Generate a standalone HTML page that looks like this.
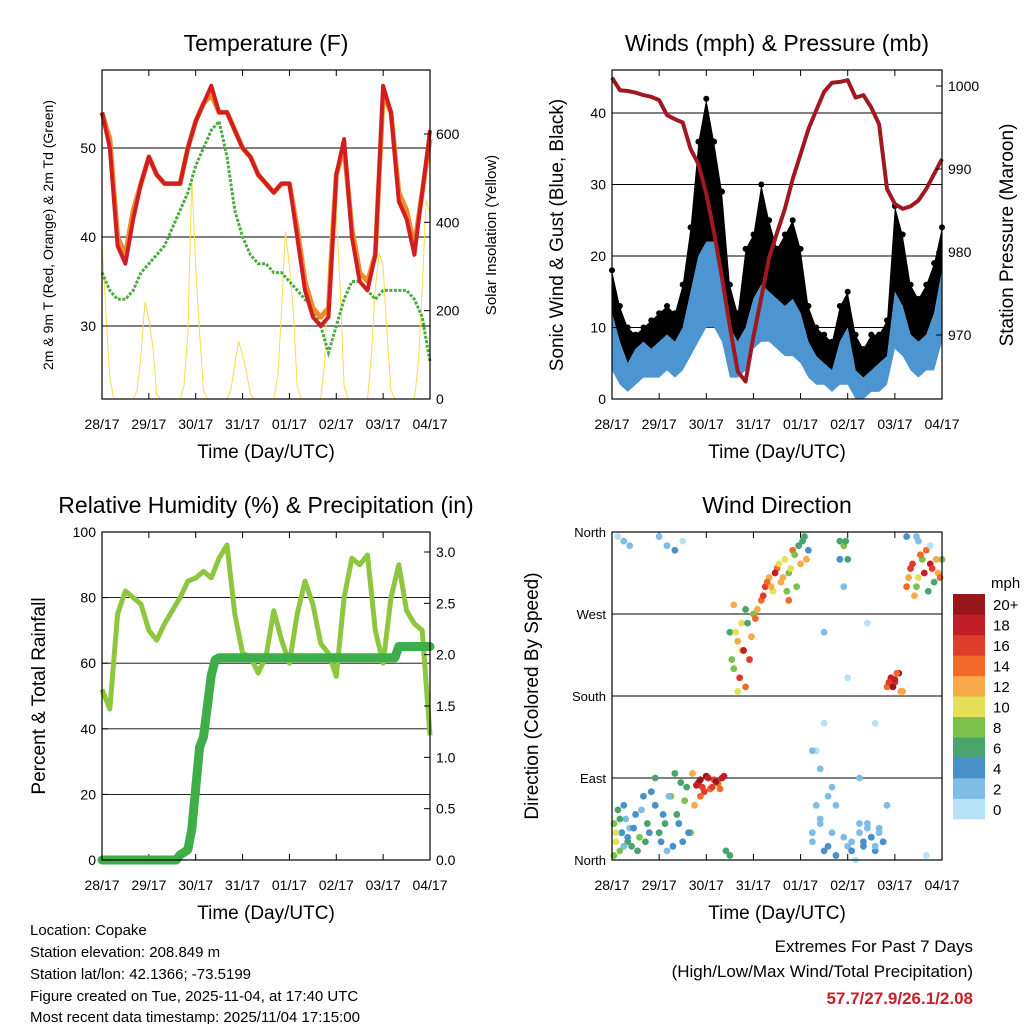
<!DOCTYPE html>
<html><head><meta charset="utf-8"><style>
html,body{margin:0;padding:0;background:#fff;}
svg{display:block;font-family:"Liberation Sans",sans-serif;}
</style></head><body>
<svg id="c" width="1024" height="1024" viewBox="0 0 1024 1024" xmlns="http://www.w3.org/2000/svg">
<rect width="1024" height="1024" fill="#fff"/>
<g font-size="15" fill="#000">
<text x="30" y="935">Location: Copake</text>
<text x="30" y="957">Station elevation: 208.849 m</text>
<text x="30" y="979">Station lat/lon: 42.1366; -73.5199</text>
<text x="30" y="1001">Figure created on Tue, 2025-11-04, at 17:40 UTC</text>
<text x="30" y="1022">Most recent data timestamp: 2025/11/04 17:15:00</text>
</g>
<g text-anchor="end">
<text x="973" y="952" font-size="17">Extremes For Past 7 Days</text>
<text x="973" y="977" font-size="17">(High/Low/Max Wind/Total Precipitation)</text>
<text x="973" y="1004" font-size="17" font-weight="bold" fill="#c8202a">57.7/27.9/26.1/2.08</text>
</g>
</svg>
<script>
// ---------- DATA ----------
const dayLabels = ["28/17","29/17","30/17","31/17","01/17","02/17","03/17","04/17"];
const hours4 = [0,4,8,12,16,20,24,28,32,36,40,44,48,52,56,60,64,68,72,76,80,84,88,92,96,100,104,108,112,116,120,124,128,132,136,140,144,148,152,156,160,164,168];
const temp2m = [54,50,39,37,42,46,49,47,46,46,46,50,53,55,57,54,54,52,50,49,47,46,45,46,46,40,34,31,30,31,47,51,40,35,34,38,57,54,44,42,38,45,52];
const temp9m = [54,51,40,38,43,46,49,47,46,46,46,50,53,55,56,54,54,52,50,49,47,46,45,46,46,41,35,32,31,32,47,50,41,36,35,38,56,54,45,43,39,45,51];
const dewpoint = [36,34,33,33,34,36,37,38,39,41,43,45,48,50,52,53,49,43,40,38,37,37,36,36,35,34,33,32,30,27,30,33,35,35,34,33,34,34,34,34,33,31,26];
const hours2 = Array.from({length:85},(_,i)=>i*2);
const solar = [350,200,50,0,0,0,0,0,0,20,100,220,180,120,10,0,0,0,0,0,0,30,150,500,300,150,20,0,0,0,0,0,0,20,80,130,100,60,10,0,0,0,0,0,0,50,200,380,300,200,30,0,0,0,0,0,0,80,300,450,420,250,30,0,0,0,0,0,0,100,250,330,300,150,20,0,0,0,0,0,0,80,250,450,420];
const windLow = [4,2,1,2,3,3,3,4,3,4,6,8,10,10,8,3,3,4,7,8,8,7,6,6,5,3,2,2,1,2,2,0,0,1,1,2,7,6,4,3,4,4,8];
const windHigh = [12,8,5,7,8,7,8,9,8,10,15,20,22,22,18,10,8,10,14,16,15,14,13,14,12,8,6,5,4,8,10,4,3,4,5,6,15,13,9,8,9,12,18];
const gust = [18,13,10,9,10,11,12,13,12,16,24,36,42,36,29,16,12,21,23,30,25,21,23,25,21,13,10,9,8,13,15,9,7,9,9,11,27,23,16,14,16,19,24];
const pressure = [1001,999.5,999.4,999.2,998.9,998.7,998.3,996.5,996,995.6,992.4,990.6,987,982.3,976.9,971,965.6,964.4,969.8,974.5,979.3,982.3,985.2,988.8,991.8,994.8,997.1,999.3,1000.4,1000.5,1000.7,998.6,998.9,997.4,995.4,987.6,985.8,985.2,985.5,986.2,987.6,989.4,991.2];
const rh = [52,46,75,82,80,78,70,67,72,76,80,85,86,88,86,92,96,75,63,62,57,62,76,67,60,75,85,78,66,63,56,80,92,90,93,70,60,80,90,76,72,70,38];
const precipHours = [0,38,40,44,46,48,50,52,54,56,58,60,150,152,168];
const precipValues = [0,0,0.05,0.1,0.3,0.7,1.1,1.2,1.5,1.8,1.95,1.97,1.97,2.08,2.08];
const dirHoursA = [1,2,3,4,5,6,7,8,9,10,12,14,16,18,3,6,9,20,22,24,26,28,30,32,34,36,38,24,28,32,36,44,46,48,50,52,54,56,42,40,58,60,62,64,66,68,70,72,60,62,66,74,76,78,80,82,84,86,88,90,92,94,96,98,100,102,104,106,108,110,112,114,116,118,120,122,124,116,118,120,126,128,130,132,134,136,138,130,134,140,142,144,146,148,150,152,154,156,158,160,162,164,166,168,150,156,162,104,108,126,140];
const dirDegA = [40,20,55,10,30,60,45,20,35,15,50,25,70,40,355,350,345,75,90,30,50,10,70,95,40,20,80,355,345,340,350,85,80,92,78,88,84,90,60,30,10,5,210,240,260,190,220,270,250,280,230,275,285,300,310,295,320,305,330,315,340,300,325,355,340,20,60,40,10,70,30,5,350,345,15,20,0,330,300,200,30,15,40,25,10,35,20,260,150,190,200,195,205,185,300,320,290,310,330,340,325,305,315,330,355,350,345,120,250,90,60];
const dirSpeedA = [8,10,6,9,4,5,3,7,2,6,4,9,5,6,1,2,2,5,7,6,4,3,8,6,5,4,7,2,3,5,1,18,16,20,15,17,14,19,12,8,6,7,8,12,10,14,16,9,6,13,11,12,14,16,13,10,15,12,11,9,14,8,12,6,4,3,2,3,4,2,3,5,7,8,2,3,1,4,2,1,3,4,2,3,4,2,3,1,1,14,18,16,20,12,15,17,13,10,8,14,18,6,12,9,4,2,1,1,2,3,2];
const dirHoursB = [1,2,4,6,8,11,13,15,17,19,22,25,27,29,31,33,35,37,39,43,45,47,49,51,53,55,57,41,45,61,63,65,67,69,71,73,64,68,77,79,81,83,85,87,89,91,93,95,97,99,90,102,106,110,114,118,122,126,128,130,132,134,136,138,102,108,112,106,119,120,141,143,145,147,144,151,153,155,157,159,161,163,165,167,155,160];
const dirDegB = [5,30,45,15,25,35,10,55,20,30,60,20,40,70,15,50,85,65,30,82,88,75,90,80,86,78,92,95,70,220,250,200,230,260,245,265,185,275,290,305,300,315,325,310,295,320,335,345,350,330,285,30,45,15,60,25,10,40,20,35,25,15,30,20,120,150,80,100,350,330,195,190,205,185,198,310,325,300,335,315,295,320,330,310,355,5];
const dirSpeedB = [8,10,6,3,4,5,6,3,7,5,4,5,6,3,4,7,6,8,5,18,20,16,19,17,21,15,18,12,14,8,10,16,18,6,12,14,11,7,16,14,12,18,10,13,8,11,9,7,6,12,15,3,2,4,3,2,5,2,4,3,4,2,3,4,2,1,2,3,6,7,17,20,14,12,19,12,16,9,14,18,7,16,12,14,2,1];
const dirHours = dirHoursA.concat(dirHoursB);
const dirDeg = dirDegA.concat(dirDegB);
const dirSpeed = dirSpeedA.concat(dirSpeedB);
const cbLabels = ["0","2","4","6","8","10","12","14","16","18","20+"];
const cbColors = ["#b6e2f8","#7fbce6","#4a90c8","#4aa56d","#7cc14a","#e6e058","#f8ab48","#f26a2a","#e03c2c","#c31d28","#97171d"];

// ---------- HELPERS ----------
const NS="http://www.w3.org/2000/svg";
const svg=document.getElementById('c');
function mk(tag,attrs,parent){const e=document.createElementNS(NS,tag);for(const k in attrs)e.setAttribute(k,attrs[k]);(parent||svg).appendChild(e);return e;}
function txt(s,attrs,parent){const e=mk('text',attrs,parent);e.textContent=s;return e;}
function lin(d0,d1,p0,p1){return v=>p0+(v-d0)/(d1-d0)*(p1-p0);}
function pathFrom(xs,ys,fx,fy){return xs.map((h,i)=>(i?'L':'M')+fx(h).toFixed(1)+','+fy(ys[i]).toFixed(1)).join('');}

function frame(L,T,R,B,title,name){
  const g=mk('g',{});
  
  
  const t=txt(title,{x:(L+R)/2,y:T-19,'text-anchor':'middle','font-size':23},g);
  
  
  const fx=lin(0,168,L,R);
  dayLabels.forEach((d,i)=>{
    const x=fx(i*24);
    mk('line',{x1:x,x2:x,y1:B,y2:B-6,stroke:'#000'},g);
    mk('line',{x1:x,x2:x,y1:T,y2:T+6,stroke:'#000'},g);
    const l=txt(d,{x:x,y:B+30,'text-anchor':'middle','font-size':14},g);
    
    
  });
  const xt=txt('Time (Day/UTC)',{x:(L+R)/2,y:B+59,'text-anchor':'middle','font-size':19},g);
  
  
  return {g,fx};
}
function border(L,T,R,B,g){mk('rect',{x:L,y:T,width:R-L,height:B-T,fill:'none',stroke:'#000','stroke-width':1.2},g);}
function yticks(vals,fy,x,side,g,labels,fs){
  vals.forEach((v,i)=>{
    const y=fy(v);
    mk('line',{x1:x,x2:x+(side<0?6:-6),y1:y,y2:y,stroke:'#000'},g);
    const l=txt(labels?labels[i]:String(v),{x:side<0?x-6:x+6,y:y+5,'text-anchor':side<0?'end':'start','font-size':fs||14},g);
    
    
  });
}
function vtitle(s,x,y,fs,g,name){
  const t=txt(s,{x:x,y:y,'text-anchor':'middle','font-size':fs,transform:`rotate(-90 ${x} ${y})`},g);
  
  
}
function hgrid(vals,fy,L,R,g){vals.forEach(v=>mk('line',{x1:L,x2:R,y1:fy(v),y2:fy(v),stroke:'#000','stroke-width':0.9},g));}

// ---------- PANEL 1: TEMPERATURE ----------
(function(){
  const L=102,T=70,R=430,B=399;
  const {g,fx}=frame(L,T,R,B,'Temperature (F)','temperature-panel');
  const fy=lin(30,50,326,148);
  const fs=lin(0,600,399,134);
  hgrid([30,40,50],fy,L,R,g);
  const sp=mk('path',{d:pathFrom(hours2,solar,fx,fs),fill:'none',stroke:'#f5dd4b','stroke-width':1},g);
  
  
  const dp=mk('path',{d:pathFrom(hours4,dewpoint,fx,fy),fill:'none',stroke:'#4aae3e','stroke-width':3,'stroke-dasharray':'3 1.5'},g);
  
  
  const t9=mk('path',{d:pathFrom(hours4,temp9m,fx,fy),fill:'none',stroke:'#f08a2c','stroke-width':5,'stroke-linejoin':'round'},g);
  
  
  const t2=mk('path',{d:pathFrom(hours4,temp2m,fx,fy),fill:'none',stroke:'#d01e22','stroke-width':4,'stroke-linejoin':'round'},g);
  
  
  border(L,T,R,B,g);
  yticks([30,40,50],fy,L,-1,g);
  yticks([0,200,400,600],fs,R,1,g);
  vtitle('2m & 9m T (Red, Orange) & 2m Td (Green)',53,235,14,g,'y-axis-title-left');
  vtitle('Solar Insolation (Yellow)',496,235,15,g,'y-axis-title-right');
})();

// ---------- PANEL 2: WINDS ----------
(function(){
  const L=612,T=70,R=942,B=399;
  const {g,fx}=frame(L,T,R,B,'Winds (mph) & Pressure (mb)','winds-panel');
  const fy=lin(0,40,399,113);
  const fp=lin(970,1000,335,86);
  hgrid([10,20,30,40],fy,L,R,g);
  const gb=mk('path',{d:pathFrom(hours4,gust,fx,fy)+pathFrom(hours4.slice().reverse(),windHigh.slice().reverse(),fx,fy).replace('M','L')+'Z',fill:'#000'},g);
  
  
  hours4.forEach((h,i)=>{
    const c=mk('circle',{cx:fx(h),cy:fy(gust[i]),r:3,fill:'#000'},g);
    
    
  });
  const wb=mk('path',{d:pathFrom(hours4,windHigh,fx,fy)+pathFrom(hours4.slice().reverse(),windLow.slice().reverse(),fx,fy).replace('M','L')+'Z',fill:'#4d95d0'},g);
  
  
  const pp=mk('path',{d:pathFrom(hours4,pressure,fx,fp),fill:'none',stroke:'#a01820','stroke-width':4,'stroke-linejoin':'round'},g);
  
  
  border(L,T,R,B,g);
  yticks([0,10,20,30,40],fy,L,-1,g);
  yticks([970,980,990,1000],fp,R,1,g);
  vtitle('Sonic Wind & Gust (Blue, Black)',563,235,19,g,'y-axis-title-left');
  vtitle('Station Pressure (Maroon)',1013,235,19,g,'y-axis-title-right');
})();

// ---------- PANEL 3: RH & PRECIP ----------
(function(){
  const L=102,T=532,R=430,B=860;
  const {g,fx}=frame(L,T,R,B,'Relative Humidity (%) & Precipitation (in)','humidity-panel');
  const fy=lin(0,100,860,532);
  const fr=lin(0,3,860,552);
  hgrid([20,40,60,80],fy,L,R,g);
  const rp=mk('path',{d:pathFrom(hours4,rh,fx,fy),fill:'none',stroke:'#8dc63f','stroke-width':5,'stroke-linejoin':'round'},g);
  
  
  const pr=mk('path',{d:pathFrom(precipHours,precipValues,fx,fr),fill:'none',stroke:'#3fae49','stroke-width':9,'stroke-linejoin':'round','stroke-linecap':'round'},g);
  
  
  border(L,T,R,B,g);
  yticks([0,20,40,60,80,100],fy,L,-1,g);
  yticks([0,0.5,1,1.5,2,2.5,3],fr,R,1,g,['0.0','0.5','1.0','1.5','2.0','2.5','3.0']);
  vtitle('Percent & Total Rainfall',45,696,19,g,'y-axis-title');
})();

// ---------- PANEL 4: WIND DIRECTION ----------
(function(){
  const L=612,T=532,R=942,B=860;
  const {g,fx}=frame(L,T,R,B,'Wind Direction','wind-direction-panel');
  const fy=lin(0,360,860,532);
  hgrid([90,180,270],fy,L,R,g);
  dirHours.forEach((h,i)=>{
    const idx=Math.min(10,Math.floor(dirSpeed[i]/2));
    const c=mk('circle',{cx:fx(h),cy:fy(dirDeg[i]),r:3.4,fill:cbColors[idx]},g);
    
    
  });
  border(L,T,R,B,g);
  yticks([0,90,180,270,360],fy,L,-1,g,['North','East','South','West','North'],13);
  vtitle('Direction (Colored By Speed)',538,696,19,g,'y-axis-title');
  const cb=mk('g',{},g);
  
  
  const h=225/11;
  cbColors.forEach((col,i)=>{
    const y=819-(i+1)*h;
    mk('rect',{x:953,y:y,width:32,height:h+0.3,fill:col},cb);
    txt(cbLabels[i],{x:993,y:y+h/2+6,'font-size':15},cb);
  });
  txt('mph',{x:991,y:588,'font-size':15},cb);
})();
</script>
</body></html>
